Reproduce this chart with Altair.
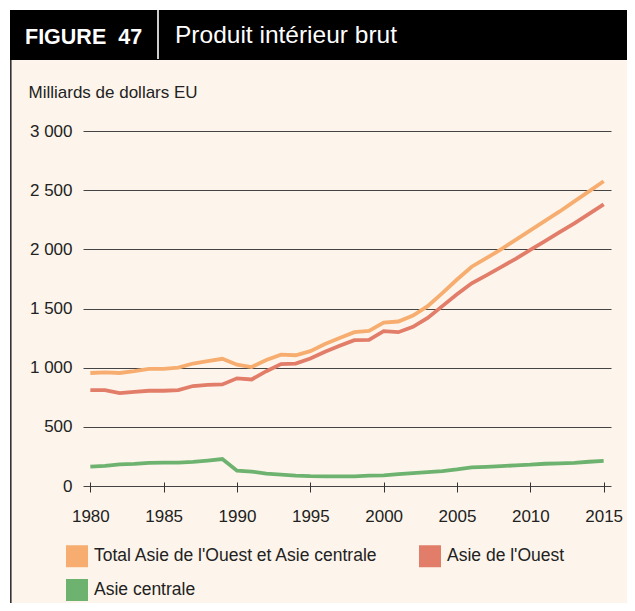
import altair as alt
import pandas as pd

# ---------------- data ----------------
years = list(range(1980, 2016))
total = [955, 960, 955, 970, 990, 990, 1000, 1035, 1055, 1075,
         1025, 1005, 1065, 1110, 1105, 1140, 1200, 1250, 1300, 1310,
         1380, 1390, 1440, 1520, 1630, 1745, 1853, 1925, 2000, 2080,
         2160, 2240, 2320, 2405, 2490, 2575]
ouest = [811, 810, 785, 795, 805, 805, 810, 845, 855, 858,
         910, 900, 970, 1030, 1035, 1078, 1135, 1185, 1232, 1235,
         1308, 1300, 1345, 1420, 1520, 1620, 1713, 1780, 1850, 1920,
         1995, 2070, 2145, 2220, 2300, 2380]
centrale = [163, 170, 183, 187, 195, 198, 198, 203, 215, 228,
            130, 122, 105, 97, 88, 83, 82, 82, 82, 87,
            90, 100, 108, 118, 125, 140, 158, 162, 168, 175,
            180, 188, 192, 196, 205, 212]

series_names = ["Total Asie de l'Ouest et Asie centrale", "Asie de l'Ouest", "Asie centrale"]
series_colors = ["#F6AD6F", "#E27D69", "#6DB36F"]
x_ticks = [1980, 1985, 1990, 1995, 2000, 2005, 2010, 2015]
y_ticks = [0, 500, 1000, 1500, 2000, 2500, 3000]

rows = []
for name, vals in zip(series_names, [total, ouest, centrale]):
    for yr, v in zip(years, vals):
        rows.append({"annee": yr, "valeur": v, "serie": name})
df = pd.DataFrame(rows)

W, H = 528, 355
FONT = "Liberation Sans"
one = alt.Data(values=[{}])

# ---------------- decoration ----------------
white_top = alt.Chart(one).mark_rect(color="white").encode(
    x=alt.value(-75), x2=alt.value(560), y=alt.value(-123), y2=alt.value(-121))
white_left = alt.Chart(one).mark_rect(color="white").encode(
    x=alt.value(-75), x2=alt.value(-73), y=alt.value(-123), y2=alt.value(490))
header = alt.Chart(one).mark_rect(color="black").encode(
    x=alt.value(-73), x2=alt.value(560), y=alt.value(-121), y2=alt.value(-71))
separator = alt.Chart(one).mark_rule(color="white", strokeWidth=1.6).encode(
    x=alt.value(75), y=alt.value(-121), y2=alt.value(-72))
border = alt.Chart(one).mark_rule(color="#333333", strokeWidth=1.6).encode(
    x=alt.value(-72.2), y=alt.value(-71), y2=alt.value(490))
fig_text = alt.Chart(one).mark_text(
    text="FIGURE\u00a0\u00a047", font=FONT, fontSize=21.5, fontWeight="bold", color="white",
    align="left", baseline="alphabetic").encode(x=alt.value(-58), y=alt.value(-87))
title_text = alt.Chart(one).mark_text(
    text="Produit intérieur brut", font=FONT, fontSize=24.5, color="white",
    align="left", baseline="alphabetic").encode(x=alt.value(92), y=alt.value(-88))

x_enc = alt.X("annee:Q",
              scale=alt.Scale(domain=[1979.5, 2015.5], nice=False, zero=False),
              axis=alt.Axis(values=x_ticks, format="d", domain=False, grid=False,
                            ticks=True, tickSize=10, tickColor="#333333", tickWidth=1,
                            offset=-4, labelPadding=16, labelFont=FONT, labelFontSize=17,
                            labelColor="#222222", labelFlush=False, title=None))
y_enc = alt.Y("valeur:Q",
              scale=alt.Scale(domain=[0, 3000], nice=False),
              axis=alt.Axis(values=y_ticks,
                            labelExpr="replace(format(datum.value, ','), ',', ' ')",
                            ticks=False, domain=False, grid=True, gridColor="#444444",
                            gridWidth=1, labelFont=FONT, labelFontSize=17,
                            labelColor="#222222", labelPadding=11,
                            title="Milliards de dollars EU", titleAngle=0,
                            titleAlign="left", titleBaseline="alphabetic",
                            titleX=-55, titleY=-34, titleFont=FONT, titleFontSize=17,
                            titleFontWeight="normal", titleColor="#222222"))


def legend_at(ly, cols):
    return alt.Legend(
        orient="none", legendX=-17, legendY=ly, columns=cols, direction="horizontal",
        symbolType="square", symbolSize=1, symbolStrokeWidth=21,
        labelFont=FONT, labelFontSize=17.5, labelColor="#222222",
        labelOffset=6, labelLimit=500, columnPadding=8,
        title=None, padding=0)


# ---------------- lines ----------------
first_two = series_names[:2]
lines_a = alt.Chart(df).transform_filter(
    alt.FieldOneOfPredicate(field="serie", oneOf=first_two)
).mark_line(strokeWidth=3.8).encode(
    x=x_enc, y=y_enc,
    color=alt.Color("serie:N",
                    scale=alt.Scale(domain=first_two, range=series_colors[:2]),
                    sort=first_two, legend=legend_at(414, 2)),
    order="annee:Q",
)

lines_b = alt.Chart(df).transform_filter(
    alt.FieldOneOfPredicate(field="serie", oneOf=series_names[2:])
).mark_line(strokeWidth=3.8).encode(
    x=x_enc, y=y_enc,
    stroke=alt.Stroke("serie:N",
                      scale=alt.Scale(domain=series_names[2:], range=series_colors[2:]),
                      legend=legend_at(448, 1)),
    order="annee:Q",
)

chart = alt.layer(
    white_top, white_left, header, separator, border, fig_text, title_text,
    lines_a, lines_b
).properties(
    width=W, height=H,
    autosize=alt.AutoSizeParams(type="none"),
    padding={"left": 75, "top": 123, "right": 16, "bottom": 117},
).configure(background="#FDF5EB").configure_view(stroke=None)

chart.save("out.html", embed_options={"renderer": "svg", "actions": False})
